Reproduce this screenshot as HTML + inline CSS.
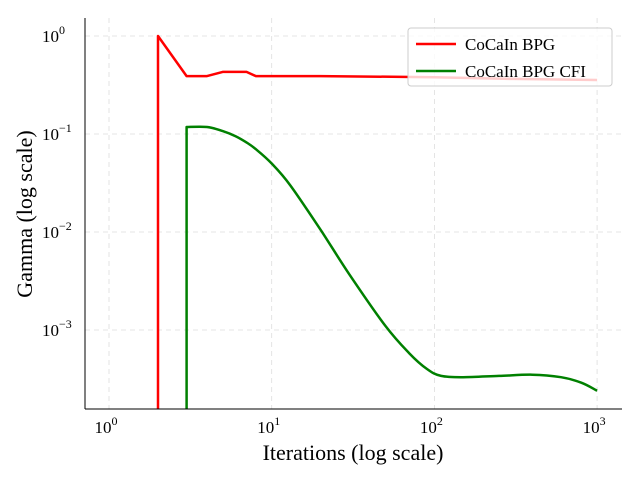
<!DOCTYPE html>
<html><head><meta charset="utf-8"><style>
html,body{margin:0;padding:0;background:#fff;overflow:hidden;width:640px;height:480px;}
svg{display:block;}
svg text{font-family:"Liberation Serif",serif;fill:#000;}
</style></head><body>
<svg width="640" height="480">
<defs><clipPath id="clip"><rect x="85" y="18" width="537" height="391"/></clipPath></defs>
<g id="grid"></g>
<g id="lines" clip-path="url(#clip)"></g>
<line x1="85" y1="18" x2="85" y2="409" stroke="#000" stroke-width="1"/>
<line x1="85" y1="409" x2="622" y2="409" stroke="#000" stroke-width="1"/>
<g id="ticks"></g>
<text x="353" y="460" font-size="22" text-anchor="middle">Iterations (log scale)</text>
<text transform="translate(32,214) rotate(-90)" font-size="22" text-anchor="middle">Gamma (log scale)</text>
<g>
<rect x="408" y="28" width="204" height="58" rx="3" fill="#fff" fill-opacity="0.8" stroke="#ccc"/>
<line x1="416" y1="44" x2="456" y2="44" stroke="#f00" stroke-width="2.5"/>
<text x="465" y="50" font-size="17">CoCaIn BPG</text>
<line x1="416" y1="71" x2="456" y2="71" stroke="#008000" stroke-width="2.5"/>
<text x="465" y="77" font-size="17">CoCaIn BPG CFI</text>
</g>
</svg>
<script>
const xTicks=[0,1,2,3];
const yTicks=[0,-1,-2,-3];
const redX=[2,2,3,4,5,7,8,20,100,300,1000];
const redY=[1e-6,1.0,0.39,0.39,0.43,0.43,0.39,0.39,0.38,0.365,0.356];
const greenStartX=[3,3];
const greenStartY=[1e-6,0.118];
const greenX=[3,4,5,6,7,8,10,13,20,30,50,70,90,110,150,250,400,600,800,1000];
const greenY=[0.118,0.118,0.107,0.095,0.082,0.07,0.05,0.03,0.0105,0.0037,0.0011,0.00058,0.0004,0.00034,0.00033,0.00034,0.00035,0.00033,0.00029,0.00024];
const NS='http://www.w3.org/2000/svg';
function xs(v){return 109+Math.log10(v)*162.7;}
function ys(v){return 36-Math.log10(v)*98;}
const g=document.getElementById('grid'),t=document.getElementById('ticks'),L=document.getElementById('lines');
function mk(tag,attrs,parent){const e=document.createElementNS(NS,tag);for(const k in attrs)e.setAttribute(k,attrs[k]);parent.appendChild(e);return e;}
xTicks.forEach(p=>{
 const x=xs(Math.pow(10,p));
 const l=mk('line',{x1:x,x2:x,y1:18,y2:409,stroke:'#ddd','stroke-dasharray':'5,4','stroke-width':0.8},g);
 
 
 const tx=mk('text',{x:x-3,y:433,'font-size':17,'text-anchor':'middle'},t);
 
 
 tx.innerHTML='10<tspan dy="-8" font-size="12">'+p+'</tspan>';
});
yTicks.forEach(p=>{
 const y=ys(Math.pow(10,p));
 const l=mk('line',{x1:85,x2:622,y1:y,y2:y,stroke:'#ddd','stroke-dasharray':'5,4','stroke-width':0.8},g);
 
 
 const tx=mk('text',{x:42,y:y+6,'font-size':17},t);
 
 
 tx.innerHTML='10<tspan dy="-8" font-size="12">'+(p===0?'0':'\u2212'+(-p))+'</tspan>';
});
function path(d,c,name){
 const p=mk('path',{d:d,fill:'none',stroke:c,'stroke-width':2.5,'stroke-linejoin':'round'},L);
 
 
}
function poly(X,Y){return X.map((x,i)=>(i?'L':'M')+xs(x).toFixed(1)+','+ys(Y[i]).toFixed(1)).join(' ');}
function smooth(X,Y){
 const P=X.map((x,i)=>[xs(x),ys(Y[i])]);
 let d='M'+P[0][0].toFixed(1)+','+P[0][1].toFixed(1);
 for(let i=0;i<P.length-1;i++){
  const p0=P[i-1]||P[i],p1=P[i],p2=P[i+1],p3=P[i+2]||P[i+1];
  const c1=[p1[0]+(p2[0]-p0[0])/6,p1[1]+(p2[1]-p0[1])/6];
  const c2=[p2[0]-(p3[0]-p1[0])/6,p2[1]-(p3[1]-p1[1])/6];
  d+=' C'+c1.map(v=>v.toFixed(1)).join(',')+' '+c2.map(v=>v.toFixed(1)).join(',')+' '+p2[0].toFixed(1)+','+p2[1].toFixed(1);
 }
 return d;
}
path(poly(redX,redY),'#f00','line-cocain-bpg');
path(poly(greenStartX,greenStartY)+' '+smooth(greenX,greenY).replace(/^M/,'L'),'#008000','line-cocain-bpg-cfi');
</script>
</body></html>
